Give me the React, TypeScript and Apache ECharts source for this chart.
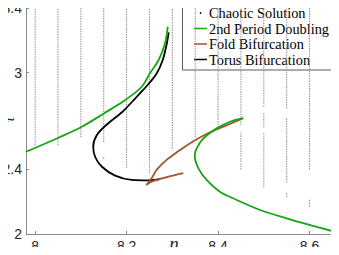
import React, { useEffect, useRef } from "react";
import * as echarts from "echarts";

// Chaotic solution: columns of points, [n, tau_low, tau_high]
const chaosSegments: number[][] = [
  [8.0, 2.55, 3.42],
  [8.05, 2.55, 3.42],
  [8.1, 2.6, 3.42],
  [8.15, 2.57, 3.42],
  [8.15, 2.465, 2.475],
  [8.2, 2.41, 3.42],
  [8.25, 2.38, 3.42],
  [8.3, 2.53, 3.42],
  [8.35, 2.6, 3.42],
  [8.4, 2.66, 3.42],
  [8.45, 2.4, 2.635],
  [8.45, 2.675, 3.42],
  [8.5, 2.29, 2.63],
  [8.5, 2.66, 2.75],
  [8.5, 2.79, 3.42],
  [8.55, 2.23, 2.26],
  [8.55, 2.32, 2.72],
  [8.55, 2.78, 3.42],
  [8.6, 2.17, 2.22],
  [8.6, 2.4, 3.42],
  [8.65, 2.14, 2.2],
  [8.65, 2.29, 3.42],
];

// 2nd period doubling, left branch
const pdLeftN = [7.98, 8.051, 8.102, 8.151, 8.197, 8.233, 8.251, 8.27, 8.284, 8.29];
const pdLeftTau = [2.51, 2.597, 2.665, 2.749, 2.831, 2.913, 2.997, 3.079, 3.183, 3.286];

// 2nd period doubling, right branch
const pdRightN = [8.455, 8.426, 8.397, 8.368, 8.353, 8.349, 8.357, 8.375, 8.404, 8.441, 8.492, 8.55, 8.608, 8.659];
const pdRightTau = [2.718, 2.696, 2.655, 2.593, 2.531, 2.484, 2.407, 2.335, 2.262, 2.211, 2.149, 2.097, 2.05, 2.011];

// Fold bifurcation
const foldN = [8.324, 8.284, 8.256, 8.243, 8.255, 8.266, 8.288, 8.313, 8.346, 8.379, 8.401, 8.455];
const foldTau = [2.378, 2.35, 2.326, 2.304, 2.347, 2.399, 2.461, 2.513, 2.575, 2.626, 2.653, 2.718];

// Torus bifurcation
const torusN = [8.292, 8.288, 8.279, 8.266, 8.246, 8.222, 8.191, 8.16, 8.135, 8.127, 8.131, 8.146, 8.175, 8.211, 8.248, 8.273];
const torusTau = [3.25, 3.183, 3.079, 2.997, 2.924, 2.851, 2.758, 2.687, 2.614, 2.541, 2.479, 2.417, 2.362, 2.335, 2.332, 2.341];

const xTicks = [8, 8.2, 8.4, 8.6];
const yTicks = [2, 2.4, 3, 3.4];

const legendNames = ["Chaotic Solution", "2nd Period Doubling", "Fold Bifurcation", "Torus Bifurcation"];

const GREEN = "#14a514";
const BROWN = "#a0562c";
const BLACK = "#000000";
const AXIS = "#8a8a8a";

const zip = (a: number[], b: number[]) => a.map((v, i) => [v, b[i]]);

export default function App() {
  const ref = useRef<HTMLDivElement>(null);
  useEffect(() => {
    if (!ref.current) return;
    const chart = echarts.init(ref.current, undefined, { renderer: "svg" });
    const curve = (name: string, data: number[][], color: string, z: number) => ({
      name,
      type: "line",
      data,
      showSymbol: false,
      smooth: 0.35,
      z,
      lineStyle: { color, width: 1.8 },
      silent: true,
    });
    const rowY = [13, 28.5, 44, 59.5];
    const lx = 194;
    const tx = 209;
    chart.setOption({
      animation: false,
      grid: { left: 26, right: 2, top: 5, bottom: 21, containLabel: false, outerBoundsMode: "none" },
      xAxis: {
        type: "value",
        min: 7.98,
        max: 8.66,
        name: "n",
        nameLocation: "middle",
        nameGap: 0,
        nameMoveOverlap: false,
        nameTextStyle: {
          fontFamily: "Liberation Serif",
          fontStyle: "italic",
          fontSize: 19,
          lineHeight: 19,
          color: "#262626",
          verticalAlign: "top",
          padding: [0, 15, 0, 0],
        },
        axisLine: { show: true, lineStyle: { color: AXIS, width: 1 } },
        axisTick: { show: true, inside: true, length: 3, lineStyle: { color: AXIS }, customValues: xTicks },
        axisLabel: {
          customValues: xTicks,
          margin: 5,
          fontFamily: "Liberation Sans",
          fontSize: 14,
          lineHeight: 14,
          color: "#262626",
          formatter: (v: number) => String(Math.round(v * 10) / 10),
        },
        splitLine: { show: false },
      },
      yAxis: {
        type: "value",
        min: 2,
        max: 3.42,
        name: "τ",
        nameLocation: "middle",
        nameGap: 10,
        nameRotate: 90,
        nameMoveOverlap: false,
        nameTextStyle: {
          fontFamily: "Liberation Serif",
          fontStyle: "italic",
          fontSize: 15,
          lineHeight: 15,
          color: "#262626",
        },
        axisLine: { show: true, lineStyle: { color: AXIS, width: 1 } },
        axisTick: { show: true, inside: true, length: 3, lineStyle: { color: AXIS }, customValues: yTicks },
        axisLabel: {
          customValues: yTicks,
          margin: 4,
          fontFamily: "Liberation Sans",
          fontSize: 14,
          lineHeight: 14,
          color: "#262626",
          formatter: (v: number) => String(Math.round(v * 10) / 10),
        },
        splitLine: { show: false },
      },
      series: [
        {
          name: legendNames[0],
          type: "custom",
          z: 1,
          silent: true,
          data: chaosSegments,
          renderItem: (params: any, api: any) => {
            const p1 = api.coord([api.value(0), api.value(1)]);
            const p2 = api.coord([api.value(0), api.value(2)]);
            return {
              type: "line",
              shape: { x1: p1[0], y1: p1[1], x2: p2[0], y2: p2[1] },
              style: { stroke: "#8f8f8f", lineWidth: 1, lineDash: [1.5, 1] },
            };
          },
        },
        curve(legendNames[3], zip(torusN, torusTau), BLACK, 3),
        curve(legendNames[2], zip(foldN, foldTau), BROWN, 4),
        curve(legendNames[1], zip(pdLeftN, pdLeftTau), GREEN, 5),
        curve(legendNames[1] + " ", zip(pdRightN, pdRightTau), GREEN, 5),
      ],
      graphic: [
        {
          type: "group",
          z: 100,
          children: [
            {
              type: "rect",
              shape: { x: 182.5, y: 3.5, width: 155, height: 66.5 },
              style: { fill: "#ffffff", stroke: "#333333", lineWidth: 0.8 },
            },
            {
              type: "circle",
              shape: { cx: lx + 6.5, cy: rowY[0], r: 0.8 },
              style: { fill: "#000" },
            },
            {
              type: "line",
              shape: { x1: lx, y1: rowY[1], x2: lx + 13, y2: rowY[1] },
              style: { stroke: GREEN, lineWidth: 1.5 },
            },
            {
              type: "line",
              shape: { x1: lx, y1: rowY[2], x2: lx + 13, y2: rowY[2] },
              style: { stroke: BROWN, lineWidth: 1.5 },
            },
            {
              type: "line",
              shape: { x1: lx, y1: rowY[3], x2: lx + 13, y2: rowY[3] },
              style: { stroke: BLACK, lineWidth: 1.5 },
            },
            ...legendNames.map((t, i) => ({
              type: "text",
              x: tx,
              y: rowY[i],
              style: {
                text: t,
                fontFamily: "Liberation Serif",
                fontSize: 14.3,
                fill: "#000",
                verticalAlign: "middle",
                align: "left",
              },
            })),
          ],
        },
      ],
    });
    return () => chart.dispose();
  }, []);
  return <div ref={ref} style={{ width: 339, height: 255, margin: -8 }} />;
}
